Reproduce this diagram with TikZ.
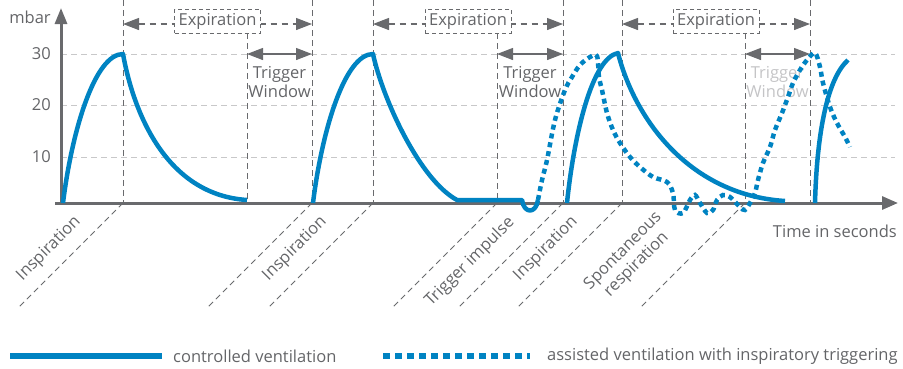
\documentclass[tikz,border=0pt]{standalone}
\usepackage{fontspec}
\setmainfont{Open Sans}
\usepackage{tikz}
\usetikzlibrary{arrows.meta}

\definecolor{vblue}{RGB}{0,131,194}
\definecolor{axgray}{RGB}{105,106,109}
\definecolor{gridgray}{RGB}{200,200,201}
\definecolor{txtgray}{RGB}{100,101,104}
\definecolor{fadegray}{RGB}{196,196,198}

\tikzset{
  txt/.style={text=txtgray, font=\fontsize{16.5}{19}\selectfont, inner sep=1pt},
  gridline/.style={gridgray, line width=1pt, dash pattern=on 6pt off 4pt},
  phase/.style={axgray, line width=0.9pt, dash pattern=on 6pt off 4pt},
  interval/.style={axgray, line width=1.3pt,
    {Triangle[length=16pt,width=12pt]}-{Triangle[length=16pt,width=12pt]}},
  expbox/.style={draw=axgray, fill=white, line width=0.9pt, dash pattern=on 4pt off 3pt,
    minimum width=86pt, minimum height=24pt, inner sep=0pt},
  ctrl/.style={vblue, line width=4.5pt, line join=round},
  assist/.style={vblue, line width=4.5pt, dash pattern=on 5pt off 4pt},
}

\begin{document}
\begin{tikzpicture}[x=1pt, y=-1pt]
    \useasboundingbox (0,0) rectangle (903,368);

    % grid and scale
    \foreach \y/\v in {54/30, 105/20, 157/10} {
      \draw[gridline] (61,\y) -- (895,\y);
      \node[txt, anchor=east] (s\v) at (52,\y) {\v};
    }

    % phase boundaries
    \foreach \x in {123,312,373,563,622,810}
      \draw[phase] (\x,0) -- (\x,203);
    \foreach \x in {247,497,745}
      \draw[phase] (\x,33) -- (\x,203);
    \foreach \x in {123,312,373,497,563,622,745}
      \draw[phase] (\x,203) -- ++(-105,105);

    % expiration and trigger window
    \foreach \a/\b/\c/\col [count=\i] in {123/247/312/txtgray, 373/497/563/txtgray, 622/745/810/fadegray} {
      \draw[interval, dash pattern=on 6pt off 5pt] (\a,24) -- (\c,24);
      \node[txt, expbox] (exp\i) at ({(\a+\c)/2},21) {Expiration};
      \draw[interval] (\b,54) -- (\c,54);
      \node[txt, text=\col, align=center] (tw\i) at ({(\b+\c)/2},82) {Trigger\\Window};
    }

    % axes
    \draw[axgray, line width=3pt, -{Triangle[length=16pt,width=13pt]}] (55,203) -- (898,203);
    \draw[axgray, line width=3pt, -{Triangle[length=16pt,width=12pt]}] (61,204.5) -- (61,8);
    \node[txt] (unit) at (30,17) {mbar};
    \node[txt, anchor=east] (time) at (898,231) {Time in seconds};

    % phase names
    \node[txt, rotate=45] (insp1) at (49,249) {Inspiration};
    \node[txt, rotate=45] (insp2) at (295,249) {Inspiration};
    \node[txt, rotate=45] (trig) at (470,262) {Trigger impulse};
    \node[txt, rotate=45] (insp3) at (546,249) {Inspiration};
    \node[txt, rotate=45, align=center] (spont) at (630,258) {Spontaneous\\respiration};

    % controlled ventilation
    \draw[ctrl] (63,203) .. controls (72,130) and (95,54) .. (123,54)
      .. controls (135,120) and (170,195) .. (247,200);
    \draw[ctrl] (313,203) .. controls (322,130) and (345,54) .. (373,54)
      .. controls (383,100) and (420,180) .. (457,200) -- (522,200)
      .. controls (524,214) and (536,214) .. (538,200);
    \draw[ctrl] (567,203) .. controls (574,135) and (592,58) .. (618,53)
      .. controls (635,120) and (690,195) .. (785,201);
    \draw[ctrl] (815,203) .. controls (817,130) and (828,78) .. (848,60);

    % assisted ventilation
    \draw[assist] plot[smooth, tension=0.55] coordinates {(538,200) (542,180) (547,160) (555,120) (565,90) (572,77)
      (580,65) (590,57) (597,56) (599,77) (602,90) (607,113) (613,130) (620,143) (630,157) (640,167) (653,177)
      (667,182) (673,193) (675,210) (683,213) (690,200) (695,195) (700,203) (707,213) (713,210) (717,200)
      (723,195) (730,197) (740,207) (745,210) (750,203) (755,193) (758,180) (763,163) (770,147) (775,130)
      (782,113) (788,97) (793,83) (800,70) (807,60) (815,53) (820,67) (823,83) (830,107) (837,123) (845,137) (850,147)};

    % legend
    \draw[ctrl, line width=6pt] (10,356) -- (162,356);
    \node[txt, anchor=west] (lg1) at (172,356) {controlled ventilation};
    \draw[assist, line width=6pt, dash pattern=on 7pt off 5pt] (383,356) -- (530,356);
    \node[txt, anchor=west] (lg2) at (546,356) {assisted ventilation with inspiratory triggering};
\end{tikzpicture}
\end{document}
